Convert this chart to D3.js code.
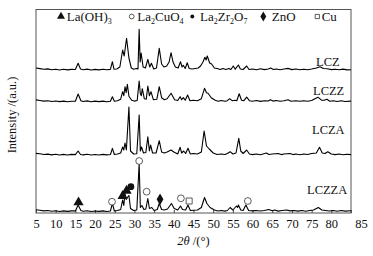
<!DOCTYPE html>
<html>
<head>
<meta charset="utf-8">
<script src="https://d3js.org/d3.v7.min.js"></script>
<style>
  body { margin: 0; background: #fff; }
  text { font-family: "Liberation Serif", "Times New Roman", serif; fill: #111; }
</style>
</head>
<body>
<div id="chart"></div>
<script>
// XRD patterns, [2theta, intensity a.u.]
var sampleNames = ["LCZ", "LCZZ", "LCZA", "LCZZA"];
var sampleOffsets = [143, 111.3, 58, 1.5];

var lczData = [[5,2],[6,1.4],[7,0.8],[8,1.1],[9,0.3],[10,0.8],[11,0],[12,0.7],[13,0.1],[14,0.6],[15.0,0.5],[15.7,6.7],[16.3,1],[17,0.3],[18,0.9],[19,0],[20,0.6],[21,0.1],[22,0.7],[23,0.2],[23.9,0.6],[24.4,8.3],[24.8,0.8],[25.5,1],[26.3,3],[27.0,20],[27.4,14],[28.0,31.7],[28.6,12],[29.2,2],[29.8,0.8],[30.5,1.5],[30.9,1],[31.2,40.7],[31.45,8],[31.7,17],[32.2,3],[32.8,2],[33.4,10.7],[33.9,3],[34.3,6.7],[34.9,1],[35.6,2],[36.3,21.7],[36.9,6],[37.5,3],[38.2,4],[38.8,8],[39.3,17.3],[39.8,8],[40.4,3],[41.1,2],[41.7,8.3],[42.1,3],[42.4,4.7],[42.9,1.5],[43.4,7.3],[43.9,1.5],[44.7,1],[45.5,1.5],[46.2,2],[46.8,4],[47.4,8],[47.9,12.7],[48.2,10],[48.5,14],[49.1,7],[49.6,6],[50.3,2],[51,1.5],[51.8,0.5],[52.5,1.5],[53.2,0.5],[54,1.5],[54.5,0.5],[55.1,4],[55.6,0.8],[56.4,5],[56.9,1],[57.6,0.5],[58.5,4],[59.1,0.5],[60,1],[61,0.2],[62,1.2],[63,0.4],[64,1],[64.6,2],[65.3,0.5],[66,1],[67,0.3],[68,1],[69,1.6],[70,0.4],[71,1],[72,0.2],[73,0.8],[74,0.3],[75,1],[76.2,2],[77.1,3.2],[78,1.5],[79,1.2],[80,0.4],[81,0.8],[82,0.2],[83,0.9],[84,0.1],[85,0.2]];

var lczzData = [[5,1.8],[6,1.2],[7,0.6],[8,1],[9,0.2],[10,0.7],[11,0.1],[12,0.6],[13,0],[14,0.5],[15.0,0.5],[15.7,7.7],[16.4,1],[17,0.2],[18,0.8],[19,0],[20,0.6],[21,0.1],[22,0.6],[23,0],[23.9,0.5],[24.4,5],[24.9,0.5],[25.7,1],[26.5,2.5],[27.0,10],[27.3,6],[27.6,15],[27.9,9],[28.2,17.4],[28.6,5.5],[29.3,1.5],[30,0.6],[30.7,1.2],[31.2,20.7],[31.5,8],[31.75,6],[32.0,13],[32.5,3],[33.0,2.5],[33.4,15.7],[33.8,6],[34.2,10],[34.8,2],[35.7,2.5],[36.3,15],[36.9,4],[37.6,2],[38.3,3],[39.3,8.4],[40.2,2],[41.0,1.2],[41.6,5],[42.0,2],[42.4,4],[42.9,1.5],[43.5,6.7],[44.1,1],[45,1.5],[46,1],[47.0,3],[47.8,13.4],[48.3,9],[48.7,8.4],[49.5,4],[50.5,1.5],[51.3,0.5],[52,1.2],[53,0.4],[53.6,1],[54.2,3],[54.8,1],[55.5,1.5],[56.0,1],[56.6,8],[57.2,1.5],[57.8,1],[58.5,4.5],[59.2,1],[60,0.5],[61,1.2],[62,0.3],[63,1],[64,0.7],[64.5,2],[65.2,0.6],[66,1.2],[67,0.4],[68,1],[69,2],[69.8,0.5],[71,1],[72,0.4],[73,1],[74,0.5],[75,1.2],[76.6,4.5],[77.5,1.5],[78.2,1.5],[78.9,2.5],[79.6,0.5],[80.5,0.9],[81.5,0.2],[82.5,1],[83.5,0.2],[85,0.6]];

var lczaData = [[5,1.6],[6,1.2],[7,0.5],[8,0.9],[9,0.1],[10,0.7],[11,0],[12,0.6],[13,0],[14,0.6],[15.0,0.4],[15.7,4],[16.3,0.5],[17,0.1],[18,0.7],[19,0],[20,0.5],[21,0],[22,0.6],[23,0.1],[23.9,0.5],[24.4,6.7],[24.9,0.5],[25.7,1],[26.5,2],[27.0,8],[27.3,5],[27.6,12],[27.95,5],[28.6,48],[29.0,4],[29.8,1],[30.6,1.2],[31.2,40],[31.5,4],[31.8,8],[32.3,2],[32.9,2.5],[33.4,18.3],[33.8,4],[34.1,10],[34.6,2],[35.5,2],[36.3,14.3],[36.9,3],[37.6,2],[38.3,3],[39.3,5],[40.0,3],[41.0,1],[41.6,7.7],[42.0,2],[42.5,4],[43.0,1.5],[43.6,6.7],[44.2,1],[45,1.5],[46,1],[47.0,3],[47.7,24],[48.3,9],[49,6],[50,2],[51,0.5],[52,1],[53,0.5],[53.6,1.5],[54.3,3.3],[55,1],[55.8,2],[56.5,16.7],[57.0,4],[57.6,1.5],[58.5,5],[59.2,1],[60,0.4],[61,1],[62,0.3],[63.5,2],[64.2,0.5],[65,1],[66.5,1.5],[67.3,0.4],[68,1],[69.5,1.5],[70.3,0.4],[71,1],[72,0.3],[73,1],[74,0.5],[75,1.5],[76.2,2],[77,7.7],[77.7,2],[78.4,1.5],[79.1,3.3],[80,1],[81,0.4],[82,1],[83,0.3],[84,0.8],[85,0.4]];

var lczzaData = [[5,1.8],[6,1.2],[7,0.6],[8,1],[9,0.2],[10,0.7],[11,0],[12,0.6],[13,0.1],[14,0.6],[15.0,0.6],[15.7,6.5],[16.4,1],[17,0.3],[18,0.8],[19,0],[20,0.5],[21,0.1],[22,0.6],[23,0],[23.9,0.5],[24.4,8.2],[24.9,0.5],[25.7,1],[26.5,2],[27.0,11.5],[27.3,6],[27.6,18],[27.9,12],[28.2,14],[28.6,16],[29.0,3],[29.8,1],[30.6,1.5],[31.2,48],[31.5,4],[31.9,6],[32.4,2],[32.9,2.5],[33.4,13],[33.8,3],[34.4,4],[35.0,1],[35.8,2],[36.3,8],[36.9,2],[37.6,1.5],[38.4,2.5],[39.4,8],[40.1,3],[41.0,1.5],[41.7,5.5],[42.2,2],[43.0,1.5],[43.6,6.5],[44.2,1],[45,1.2],[46,1.5],[47.0,4],[47.8,14],[48.4,8],[49.2,4],[50.3,1.5],[51.2,0.5],[52,1],[53,0.4],[53.6,1],[54.3,4],[55.0,1.5],[55.9,5.5],[56.2,4],[56.4,6.5],[57.0,1.5],[57.6,1],[58.3,6.5],[59.0,1],[60,0.6],[60.8,1],[62,0.5],[63,1],[64.1,2],[65,0.8],[65.6,1.5],[66.5,0.4],[67.5,1],[68.7,1.5],[69.5,0.6],[70.5,1],[71.5,0.4],[72.5,1],[73.5,0.3],[74.5,1],[75.5,1.5],[76.7,4],[77.6,1.5],[78.5,1],[79.5,0.5],[80.5,1],[81.5,0.3],[82.5,1],[83.5,0.4],[85,0.8]];

var sampleData = [lczData, lczzData, lczaData, lczzaData];

// phase markers on the LCZZA pattern: [2theta, intensity, phase]
var peakMarks = [[15.8,10.7,"tri"],[24.3,11.3,"ring"],[27.0,17,"tri"],[28.0,22.3,"tri"],[29.1,26.3,"dot"],[31.2,52,"ring"],[33.1,21.3,"ring"],[36.5,13.7,"dia"],[41.8,14.7,"ring"],[43.9,12,"sq"],[58.8,12,"ring"]];

// legend: phase symbol + label parts (odd parts are subscripts)
var phaseKeys = ["tri", "ring", "dot", "dia", "sq"];
var phaseLabels = [["La(OH)", "3"], ["La", "2", "CuO", "4"], ["La", "2", "Zr", "2", "O", "7"], ["ZnO"], ["Cu"]];

var xTicks = d3.range(5, 86, 5);

var svgWidth = 373;
var svgHeight = 256;
var margin = {top: 9.5, right: 22, bottom: 43, left: 36};
var width = svgWidth - margin.left - margin.right;
var height = svgHeight - margin.top - margin.bottom;

var svg = d3.select("#chart")
    .append("svg")
    .attr("width", svgWidth)
    .attr("height", svgHeight);

var chartGroup = svg.append("g")
    .attr("transform", `translate(${margin.left}, ${margin.top})`);

var xScale = d3.scaleLinear().domain([5, 85]).range([0, width]);
var yScale = d3.scaleLinear().domain([0, height]).range([height, 0]);

var serif = "'Liberation Serif', 'Times New Roman', serif";

// x axis with inward ticks
var bottomAxis = d3.axisBottom(xScale)
    .tickValues(xTicks)
    .tickSizeInner(-3)
    .tickSizeOuter(0)
    .tickPadding(6);

var xAxisG = chartGroup.append("g")
    .attr("transform", `translate(0, ${height})`)
    .call(bottomAxis);
xAxisG.select(".domain").remove();
xAxisG.selectAll("line").attr("stroke", "#444");
xAxisG.selectAll("text")
    .attr("font-family", serif)
    .attr("font-size", "12.5px")
    .attr("fill", "#111");
// last label sits a bit right of the frame in the original
xAxisG.selectAll(".tick").filter(d => d === 85).select("text").attr("dx", "10");

// frame
chartGroup.append("rect")
    .attr("x", 0).attr("y", 0)
    .attr("width", width).attr("height", height)
    .attr("fill", "none")
    .attr("stroke", "#555")
    .attr("stroke-width", 1);

// patterns
var line = d3.line()
    .x(d => xScale(d[0]))
    .y(d => yScale(d[1]));

sampleData.forEach((data, i) => {
    chartGroup.append("path")
        .datum(data.map(d => [d[0], d[1] + sampleOffsets[i]]))
        .attr("d", line)
        .attr("fill", "none")
        .attr("stroke", "#000")
        .attr("stroke-width", 1.1)
        .attr("stroke-linejoin", "round");
});

// sample labels (x in px from frame left, y in intensity units)
var labelPos = [[280, 147], [277, 118], [276, 79], [271, 19]];
sampleNames.forEach((name, i) => {
    chartGroup.append("text")
        .attr("x", labelPos[i][0])
        .attr("y", yScale(labelPos[i][1]))
        .attr("font-size", "12.5px")
        .text(name);
});

// symbols
function drawMark(g, key, x, y, s) {
    var types = {tri: d3.symbolTriangle, ring: d3.symbolCircle, dot: d3.symbolCircle, dia: d3.symbolDiamond, sq: d3.symbolSquare};
    var hollow = key === "ring" || key === "sq";
    g.append("path")
        .attr("transform", `translate(${x}, ${y})`)
        .attr("d", d3.symbol().type(types[key]).size(s)())
        .attr("fill", hollow ? "#fff" : "#111")
        .attr("stroke", hollow ? "#333" : "none")
        .attr("stroke-width", 0.8);
}

peakMarks.forEach(d => {
    var size = d[2] === "tri" ? 45 : (d[2] === "dia" ? 40 : 36);
    drawMark(chartGroup, d[2], xScale(d[0]), yScale(d[1]), size);
});

// legend
var legendX = [25, 95.7, 156.3, 227.3, 281.3];
var legendTextX = [30.7, 101.3, 164, 235.7, 285.7];
var legendY = 7;
phaseKeys.forEach((key, i) => {
    var s = key === "tri" ? 28 : (key === "dia" ? 30 : (key === "dot" ? 12 : 18));
    drawMark(chartGroup, key, legendX[i], legendY, s);
    var t = chartGroup.append("text")
        .attr("x", legendTextX[i])
        .attr("y", legendY + 4)
        .attr("font-size", "13px");
    phaseLabels[i].forEach((part, j) => {
        var sub = j % 2 === 1;
        t.append("tspan")
            .attr("font-size", sub ? "8px" : "13px")
            .attr("dy", sub ? 3 : (j > 0 ? -3 : 0))
            .text(part);
    });
});

// axis titles
var xTitle = svg.append("text")
    .attr("x", margin.left + width / 2)
    .attr("y", 245)
    .attr("text-anchor", "middle")
    .attr("font-size", "12.5px");
xTitle.append("tspan").attr("font-style", "italic").text("2θ");
xTitle.append("tspan").text(" /(°)");

svg.append("text")
    .attr("transform", "rotate(-90)")
    .attr("x", -115)
    .attr("y", 16)
    .attr("text-anchor", "middle")
    .attr("font-size", "12.5px")
    .text("Intensity /(a.u.)");
</script>
</body>
</html>
